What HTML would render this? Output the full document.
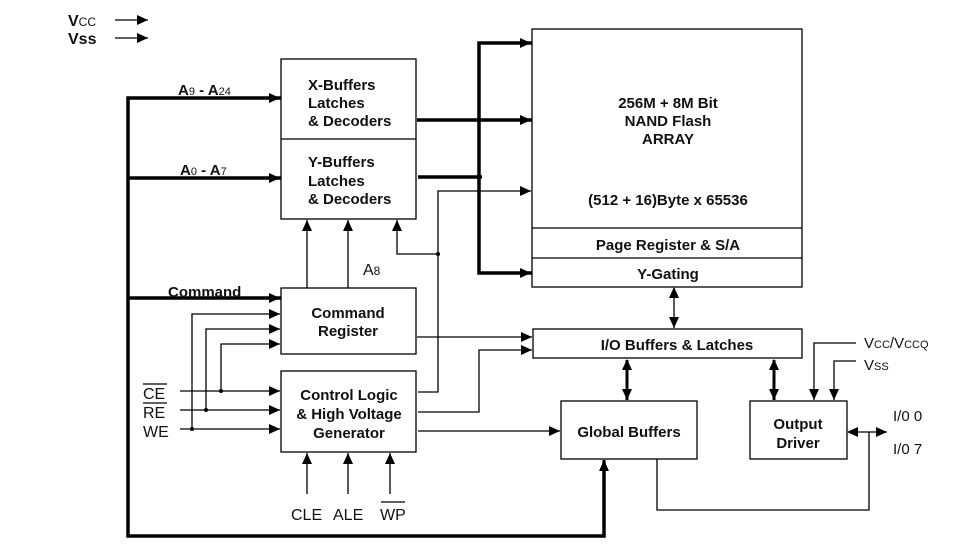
<!DOCTYPE html>
<html><head><meta charset="utf-8"><style>
html,body{margin:0;padding:0;background:#fff;}
svg{display:block;}
text{font-family:"Liberation Sans",Arial,sans-serif;fill:#111;}
.b{font-weight:bold;font-size:15px;}
.n{font-size:15px;}
</style></head><body>
<svg width="976" height="547" viewBox="0 0 976 547" xmlns="http://www.w3.org/2000/svg">
<defs>
<marker id="a" markerUnits="userSpaceOnUse" markerWidth="12" markerHeight="10" refX="11" refY="5" orient="auto"><path d="M0,0 L11,5 L0,10 Z" fill="#000"/></marker>
<marker id="s" markerUnits="userSpaceOnUse" markerWidth="12" markerHeight="10" refX="1" refY="5" orient="auto"><path d="M11,0 L0,5 L11,10 Z" fill="#000"/></marker>
</defs>
<g fill="none" stroke="#000">
<!-- boxes -->
<g stroke-width="1.3">
<rect x="281" y="59" width="135" height="160"/>
<line x1="281" y1="139" x2="416" y2="139"/>
<rect x="532" y="29" width="270" height="258"/>
<line x1="532" y1="228" x2="802" y2="228"/>
<line x1="532" y1="258" x2="802" y2="258"/>
<rect x="281" y="288" width="135" height="66"/>
<rect x="281" y="371" width="135" height="81"/>
<rect x="533" y="329" width="269" height="29"/>
<rect x="561" y="401" width="136" height="58"/>
<rect x="750" y="401" width="97" height="58"/>
</g>
<!-- Vcc/Vss arrows -->
<line x1="115" y1="20" x2="148" y2="20" stroke-width="1.3" marker-end="url(#a)"/>
<line x1="115" y1="38" x2="148" y2="38" stroke-width="1.3" marker-end="url(#a)"/>
<!-- thick left bus -->
<g stroke-width="3.5">
<polyline points="281,98 128,98 128,536 604,536 604,462"/>
<line x1="128" y1="178" x2="281" y2="178"/>
<line x1="128" y1="298" x2="281" y2="298"/>
<polyline points="532,43 479,43 479,273 532,273"/>
<line x1="417" y1="120" x2="532" y2="120"/>
<line x1="418" y1="177" x2="482" y2="177"/>
</g>
<g stroke-width="3">
<line x1="128" y1="98" x2="280" y2="98" marker-end="url(#a)"/>
<line x1="128" y1="178" x2="280" y2="178" marker-end="url(#a)"/>
<line x1="128" y1="298" x2="280" y2="298" marker-end="url(#a)"/>
<line x1="479" y1="43" x2="531" y2="43" marker-end="url(#a)"/>
<line x1="479" y1="120" x2="531" y2="120" marker-end="url(#a)"/>
<line x1="479" y1="273" x2="531" y2="273" marker-end="url(#a)"/>
<line x1="604" y1="536" x2="604" y2="460" marker-end="url(#a)"/>
<line x1="627" y1="360" x2="627" y2="400" marker-start="url(#s)" marker-end="url(#a)"/>
<line x1="774" y1="360" x2="774" y2="400" marker-start="url(#s)" marker-end="url(#a)"/>
</g>
<!-- thin lines -->
<g stroke-width="1.3">
<polyline points="418,392 438,392 438,191 531,191" marker-end="url(#a)"/>
<polyline points="438,254 397,254 397,220" marker-end="url(#a)"/>
<line x1="307" y1="288" x2="307" y2="220" marker-end="url(#a)"/>
<line x1="348" y1="288" x2="348" y2="220" marker-end="url(#a)"/>
<line x1="417" y1="337" x2="532" y2="337" marker-end="url(#a)"/>
<polyline points="418,412 479,412 479,350 532,350" marker-end="url(#a)"/>
<line x1="418" y1="431" x2="560" y2="431" marker-end="url(#a)"/>
<line x1="180" y1="391" x2="280" y2="391" marker-end="url(#a)"/>
<line x1="180" y1="410" x2="280" y2="410" marker-end="url(#a)"/>
<line x1="180" y1="429" x2="280" y2="429" marker-end="url(#a)"/>
<polyline points="221,391 221,344 280,344" marker-end="url(#a)"/>
<polyline points="206,410 206,329 280,329" marker-end="url(#a)"/>
<polyline points="192,429 192,314 280,314" marker-end="url(#a)"/>
<line x1="307" y1="494" x2="307" y2="453" marker-end="url(#a)"/>
<line x1="348" y1="494" x2="348" y2="453" marker-end="url(#a)"/>
<line x1="390" y1="494" x2="390" y2="453" marker-end="url(#a)"/>
<line x1="674" y1="288" x2="674" y2="328" marker-start="url(#s)" marker-end="url(#a)"/>
<polyline points="856,343 814,343 814,400" marker-end="url(#a)"/>
<polyline points="856,361 834,361 834,400" marker-end="url(#a)"/>
<line x1="848" y1="432" x2="887" y2="432" marker-start="url(#s)" marker-end="url(#a)"/>
<polyline points="869,432 869,510 657,510 657,459"/>
<line x1="143" y1="384" x2="167" y2="384"/>
<line x1="143" y1="403" x2="167" y2="403"/>
<line x1="381" y1="502" x2="405" y2="502"/>
</g>
</g>
<g fill="#000"><circle cx="221" cy="391" r="2"/><circle cx="206" cy="410" r="2"/><circle cx="192" cy="429" r="2"/><circle cx="438" cy="254" r="2"/></g>
<!-- text -->
<text x="68" y="26" class="b" style="font-size:16px">V<tspan style="font-weight:normal;font-size:12px">CC</tspan></text>
<text x="68" y="44" class="b" style="font-size:16px">Vss</text>
<text x="178" y="95" class="b">A<tspan style="font-size:11px;font-weight:normal">9</tspan> - A<tspan style="font-size:11px;font-weight:normal">24</tspan></text>
<text x="180" y="175" class="b">A<tspan style="font-size:11px;font-weight:normal">0</tspan> - A<tspan style="font-size:11px;font-weight:normal">7</tspan></text>
<text x="168" y="297" class="b">Command</text>
<text x="308" y="90" class="b">X-Buffers</text>
<text x="308" y="108" class="b">Latches</text>
<text x="308" y="126" class="b">&amp; Decoders</text>
<text x="308" y="167" class="b">Y-Buffers</text>
<text x="308" y="186" class="b">Latches</text>
<text x="308" y="204" class="b">&amp; Decoders</text>
<text x="363" y="275" class="n" style="font-size:16px">A<tspan style="font-size:12px">8</tspan></text>
<text x="348" y="318" class="b" text-anchor="middle">Command</text>
<text x="348" y="336" class="b" text-anchor="middle">Register</text>
<text x="349" y="400" class="b" text-anchor="middle">Control Logic</text>
<text x="349" y="419" class="b" text-anchor="middle">&amp; High Voltage</text>
<text x="349" y="438" class="b" text-anchor="middle">Generator</text>
<text x="143" y="399" class="n" style="font-size:16px">CE</text>
<text x="143" y="418" class="n" style="font-size:16px">RE</text>
<text x="143" y="437" class="n" style="font-size:16px">WE</text>
<text x="291" y="520" class="n" style="font-size:16px">CLE</text>
<text x="333" y="520" class="n" style="font-size:16px">ALE</text>
<text x="380" y="520" class="n" style="font-size:16px">WP</text>
<text x="668" y="108" class="b" text-anchor="middle">256M + 8M Bit</text>
<text x="668" y="126" class="b" text-anchor="middle">NAND Flash</text>
<text x="668" y="144" class="b" text-anchor="middle">ARRAY</text>
<text x="668" y="205" class="b" text-anchor="middle">(512 + 16)Byte x 65536</text>
<text x="668" y="250" class="b" text-anchor="middle">Page Register &amp; S/A</text>
<text x="668" y="279" class="b" text-anchor="middle">Y-Gating</text>
<text x="677" y="350" class="b" text-anchor="middle">I/O Buffers &amp; Latches</text>
<text x="629" y="437" class="b" text-anchor="middle">Global Buffers</text>
<text x="798" y="429" class="b" text-anchor="middle">Output</text>
<text x="798" y="448" class="b" text-anchor="middle">Driver</text>
<text x="864" y="348" class="n">V<tspan style="font-size:11px">CC</tspan>/V<tspan style="font-size:11px">CCQ</tspan></text>
<text x="864" y="370" class="n">V<tspan style="font-size:11px">SS</tspan></text>
<text x="893" y="421" class="n">I/0 0</text>
<text x="893" y="454" class="n">I/0 7</text>
</svg>
</body></html>
